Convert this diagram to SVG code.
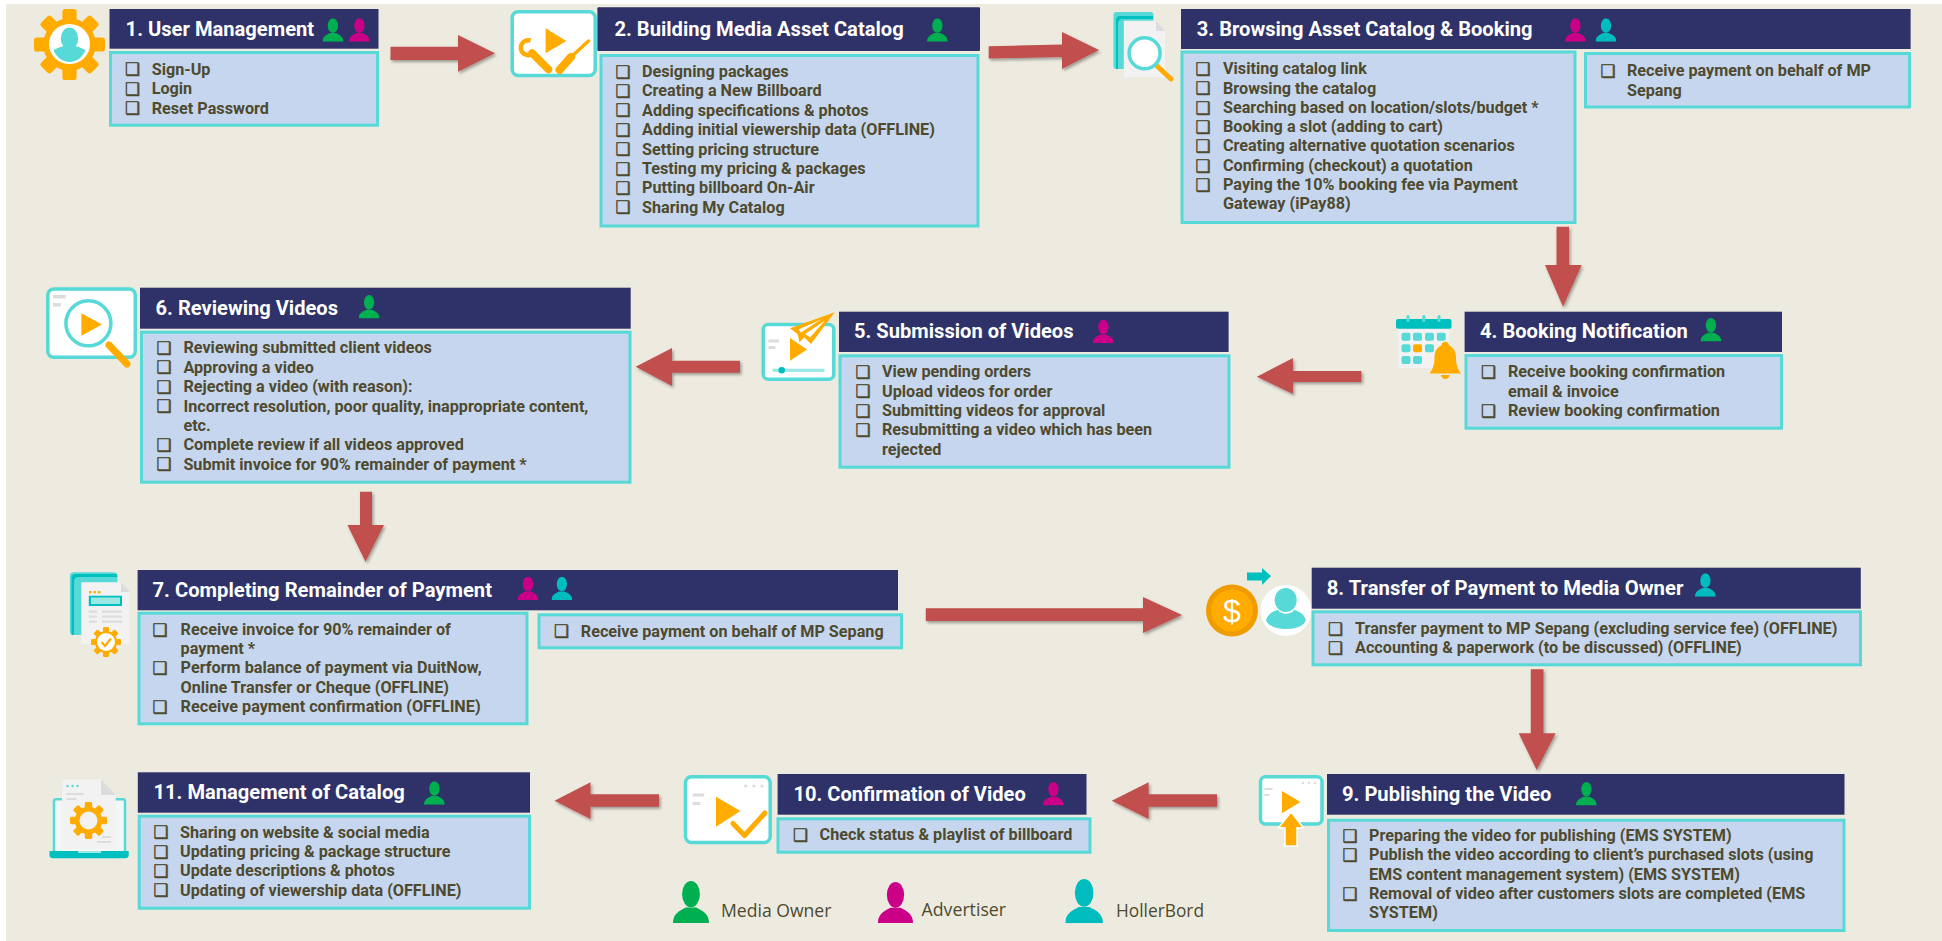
<svg xmlns="http://www.w3.org/2000/svg" xmlns:xlink="http://www.w3.org/1999/xlink" width="1942" height="941" viewBox="0 0 1942 941">
<style>
.h{fill:#2E3268}
.b{fill:#C5D6EE;stroke:#56D9D7;stroke-width:3}
.t{font:700 20px Roboto,"Liberation Sans",sans-serif;fill:#fff}
.l{font:700 16.2px Roboto,"Liberation Sans",sans-serif;fill:#4F4A2E}
.c{font:17px "DejaVu Sans",sans-serif;fill:#4F4A2E;stroke:#4F4A2E;stroke-width:.5}
.k{font:18px "Open Sans","Noto Sans",sans-serif;fill:#4F4A2E}
.a{fill:#C0504D;filter:url(#sh)}
.g{fill:#56D9D7}.d{fill:#00BFBF}.o{fill:#FFAB00}.p{fill:#F2F2F2}.y{fill:#DCDCDC}
.f{fill:#fff;stroke:#56D9D7;stroke-width:3.5}
.mg{fill:#00B050}.mm{fill:#CC0088}.mt{fill:#00BCBE}
</style>
<defs>
<filter id="sh" x="-20%" y="-20%" width="140%" height="140%"><feDropShadow dx="1.5" dy="2" stdDeviation="1.8" flood-color="#000" flood-opacity=".35"/></filter>
<symbol id="person" viewBox="0 0 21 23" preserveAspectRatio="none"><ellipse cx="10.5" cy="7.2" rx="5.2" ry="7.2"/><path d="M0 23C0 18 3.5 16.5 7.5 14.5L13.5 14.5C17.5 16.5 21 18 21 23Z"/></symbol>
<symbol id="gear" viewBox="-50 -50 100 100"><circle r="37"/><g id="tooth"><rect x="-10" y="-50" width="20" height="100" rx="4"/><rect x="-10" y="-50" width="20" height="100" rx="4" transform="rotate(45)"/><rect x="-10" y="-50" width="20" height="100" rx="4" transform="rotate(90)"/><rect x="-10" y="-50" width="20" height="100" rx="4" transform="rotate(135)"/></g></symbol>
</defs>
<rect width="1942" height="941" fill="#fff"/>
<rect x="6" y="4" width="1936" height="937" fill="#EDEBE0"/>

<g id="connectors">
<path class="a" d="M390.5 46.7H458V35L495 53.3 458 71.7V60H390.5Z"/>
<path class="a" d="M988.7 46.2L1062 44.5V32L1099 50 1062 69V57L988.7 58.5Z"/>
<path class="a" d="M1556.5 226.7H1569V265H1581.7L1563 306.7 1545 265H1556.5Z"/>
<path class="a" d="M1361.4 371H1293V358L1256.8 376.7 1293 394V382H1361.4Z"/>
<path class="a" d="M740 360.7H672V348L635.7 366.7 672 386V372.7H740Z"/>
<path class="a" d="M360 491.7H372V525H384L365.5 561.7 347.5 525H360Z"/>
<path class="a" d="M925.8 608.3H1143V597L1182 615 1143 633V621H925.8Z"/>
<path class="a" d="M1530.8 669.3H1543.5V733.3H1555.6L1536.7 770 1518.7 733.3H1530.8Z"/>
<path class="a" d="M1217 794.3H1148.6V782.3L1111.8 800.7 1148.6 819V806.7H1217Z"/>
<path class="a" d="M659 794.3H590.5V782.3L554.5 800.7 590.5 819V806.7H659Z"/>
</g>

<g id="node1">
<use href="#gear" x="34" y="9" width="71" height="71" class="o"/>
<ellipse cx="69.5" cy="44" rx="20.5" ry="20" fill="#fff"/>
<ellipse cx="69.5" cy="38.5" rx="8.7" ry="11" class="g"/>
<path class="g" d="M53.5 50C58 47.5 62 46.5 64 46H75C77 46.5 81 47.5 85.5 50 83 57 76.5 62 69.5 62S56 57 53.5 50Z"/>
<rect class="h" x="109.5" y="9" width="269" height="39.7"/>
<text class="t" x="125.6" y="35.5" textLength="188.6" lengthAdjust="spacingAndGlyphs">1. User Management</text>
<use href="#person" x="322.5" y="18.3" width="20.8" height="23.4" class="mg"/>
<use href="#person" x="349" y="18.3" width="20.8" height="23.4" class="mm"/>
<rect class="b" x="110.5" y="52.5" width="267" height="72.7"/>
<text class="c" x="125" y="75.3">❑</text><text class="l" x="151.7" y="74.5">Sign-Up</text>
<text class="c" x="125" y="95">❑</text><text class="l" x="151.7" y="94.2">Login</text>
<text class="c" x="125" y="114.3">❑</text><text class="l" x="151.7" y="113.5">Reset Password</text>
</g>

<g id="node2">
<rect class="f" x="512.2" y="11.8" width="83" height="63.7" rx="6"/>
<path class="o" d="M545.6 28.3L566.3 41 545.6 53.3Z"/>
<path d="M532 53L548.5 69.5" stroke="#FFAB00" stroke-width="7.5" stroke-linecap="round" fill="none"/>
<path d="M530.5 40.5A7.5 7.5 0 1 0 535 51" stroke="#FFAB00" stroke-width="4.5" fill="none"/>
<path d="M559.5 70L571 57" stroke="#FFAB00" stroke-width="8" stroke-linecap="round" fill="none"/>
<path d="M571 57L588.5 41" stroke="#FFAB00" stroke-width="3.5" stroke-linecap="round" fill="none"/>
<rect class="h" x="597.4" y="7.3" width="382.6" height="43.7" rx="1"/>
<text class="t" x="614.4" y="36" textLength="289.3" lengthAdjust="spacingAndGlyphs">2. Building Media Asset Catalog</text>
<use href="#person" x="927" y="18.3" width="20.8" height="23.4" class="mg"/>
<rect class="b" x="601" y="55.5" width="377" height="170.5"/>
<text class="c" x="615.5" y="77.5">❑</text><text class="l" x="642" y="76.9">Designing packages</text>
<text class="c" x="615.5" y="96.9">❑</text><text class="l" x="642" y="96.3">Creating a New Billboard</text>
<text class="c" x="615.5" y="116.3">❑</text><text class="l" x="642" y="115.7">Adding specifications &amp; photos</text>
<text class="c" x="615.5" y="135.7">❑</text><text class="l" x="642" y="135.1">Adding initial viewership data (OFFLINE)</text>
<text class="c" x="615.5" y="155.1">❑</text><text class="l" x="642" y="154.5">Setting pricing structure</text>
<text class="c" x="615.5" y="174.5">❑</text><text class="l" x="642" y="173.9">Testing my pricing &amp; packages</text>
<text class="c" x="615.5" y="193.9">❑</text><text class="l" x="642" y="193.3">Putting billboard On-Air</text>
<text class="c" x="615.5" y="213.3">❑</text><text class="l" x="642" y="212.7">Sharing My Catalog</text>
</g>

<g id="node3">
<rect class="g" x="1113.5" y="12" width="40" height="57" rx="3"/>
<path class="d" d="M1118 69V24Q1118 19 1123 19H1153V16H1120Q1116 16 1116 20V69Z"/>
<path class="p" d="M1123.8 20.7H1156L1165 31V77.3H1123.8Z"/>
<path class="y" d="M1156 20.7L1165 31H1156Z"/>
<path d="M1156 65L1171 79" stroke="#FFAB00" stroke-width="5" stroke-linecap="round"/>
<circle cx="1144.6" cy="53.3" r="15.5" fill="#fff" stroke="#56D9D7" stroke-width="3.5"/>
<rect class="h" x="1181" y="9" width="729.6" height="40"/>
<text class="t" x="1196.8" y="35.5" textLength="335.7" lengthAdjust="spacingAndGlyphs">3. Browsing Asset Catalog &amp; Booking</text>
<use href="#person" x="1565" y="18.3" width="20.8" height="23.4" class="mm"/>
<use href="#person" x="1595.6" y="18.3" width="20.8" height="23.4" class="mt"/>
<rect class="b" x="1182" y="52" width="393" height="170.5"/>
<text class="c" x="1195.5" y="75">❑</text><text class="l" x="1223" y="74.2">Visiting catalog link</text>
<text class="c" x="1195.5" y="94.3">❑</text><text class="l" x="1223" y="93.5">Browsing the catalog</text>
<text class="c" x="1195.5" y="113.6">❑</text><text class="l" x="1223" y="112.8">Searching based on location/slots/budget *</text>
<text class="c" x="1195.5" y="132.9">❑</text><text class="l" x="1223" y="132.1">Booking a slot (adding to cart)</text>
<text class="c" x="1195.5" y="152.2">❑</text><text class="l" x="1223" y="151.4">Creating alternative quotation scenarios</text>
<text class="c" x="1195.5" y="171.5">❑</text><text class="l" x="1223" y="170.7">Confirming (checkout) a quotation</text>
<text class="c" x="1195.5" y="190.8">❑</text><text class="l" x="1223" y="190">Paying the 10% booking fee via Payment</text>
<text class="l" x="1223" y="209.3">Gateway (iPay88)</text>
<rect class="b" x="1585.5" y="53.5" width="324" height="53.5"/>
<text class="c" x="1600.5" y="76.5">❑</text><text class="l" x="1627" y="75.9">Receive payment on behalf of MP</text>
<text class="l" x="1627" y="95.5">Sepang</text>
</g>

<g id="node4">
<rect class="p" x="1398" y="328" width="51.5" height="40"/>
<rect class="d" x="1396" y="319" width="55.5" height="9.7" rx="2"/>
<rect class="g" x="1406.5" y="315" width="3" height="7" rx="1.5"/><rect class="g" x="1422.3" y="315" width="3" height="7" rx="1.5"/><rect class="g" x="1437.5" y="315" width="3" height="7" rx="1.5"/>
<rect class="g" x="1401.5" y="332.7" width="9" height="8" rx="2"/><rect class="g" x="1413" y="332.7" width="9" height="8" rx="2"/><rect class="g" x="1425" y="332.7" width="9" height="8" rx="2"/><rect class="g" x="1436.8" y="332.7" width="9" height="8" rx="2"/>
<rect class="g" x="1401.5" y="344.3" width="9" height="8" rx="2"/><rect class="o" x="1413" y="344.3" width="9" height="8" rx="2"/><rect class="g" x="1425" y="344.3" width="9" height="8" rx="2"/>
<rect class="g" x="1401.5" y="356" width="9" height="8" rx="2"/><rect class="g" x="1413" y="356" width="9" height="8" rx="2"/>
<path class="o" d="M1445.2 341.7C1448 341.7 1449 344 1449 345.5 1454 347.5 1456 352 1456 358 1456 365 1458 370 1461 373.5H1429.5C1432.5 370 1434.5 365 1434.5 358 1434.5 352 1436.5 347.5 1441.5 345.5 1441.5 344 1442.5 341.7 1445.2 341.7ZM1441 375H1449.5C1449 377.5 1447.5 379 1445.2 379S1441.5 377.5 1441 375Z"/>
<rect class="h" x="1464.6" y="311.7" width="317.4" height="40.3"/>
<text class="t" x="1480" y="338" textLength="207.8" lengthAdjust="spacingAndGlyphs">4. Booking Notification</text>
<use href="#person" x="1700.5" y="318" width="20.8" height="23.4" class="mg"/>
<rect class="b" x="1466" y="355.5" width="315.5" height="72.7"/>
<text class="c" x="1481" y="377.8">❑</text><text class="l" x="1508" y="377.2">Receive booking confirmation</text>
<text class="l" x="1508" y="396.7">email &amp; invoice</text>
<text class="c" x="1481" y="416.8">❑</text><text class="l" x="1508" y="416.2">Review booking confirmation</text>
</g>

<g id="node5">
<rect class="f" x="763.2" y="324.5" width="70.6" height="54.7" rx="5"/>
<rect class="y" x="768.4" y="339.5" width="10.5" height="3"/><rect class="y" x="768.4" y="346" width="7" height="3"/>
<path class="o" d="M790 338L807 349.5 790 360.7Z"/>
<rect x="772.5" y="368.7" width="52" height="3.2" fill="#9BE8E4"/><circle cx="781.7" cy="370.3" r="3.3" class="d"/>
<path class="o" d="M834.7 312.3L790 328.3 797.5 334 799.5 342 804.5 337.5 811 344Z"/>
<path fill="#fff" d="M821 319.5L798.5 329.5 801 332.5ZM825 320.5L805 334 810 337.5Z"/>
<rect class="h" x="839" y="311.7" width="389.6" height="40.3"/>
<text class="t" x="854" y="338" textLength="219.5" lengthAdjust="spacingAndGlyphs">5. Submission of Videos</text>
<use href="#person" x="1093" y="319.7" width="20.8" height="23.4" class="mm"/>
<rect class="b" x="840" y="355.8" width="389" height="111.4"/>
<text class="c" x="855.5" y="377.8">❑</text><text class="l" x="882" y="377.2">View pending orders</text>
<text class="c" x="855.5" y="397.3">❑</text><text class="l" x="882" y="396.7">Upload videos for order</text>
<text class="c" x="855.5" y="416.6">❑</text><text class="l" x="882" y="416">Submitting videos for approval</text>
<text class="c" x="855.5" y="435.9">❑</text><text class="l" x="882" y="435.3">Resubmitting a video which has been</text>
<text class="l" x="882" y="454.5">rejected</text>
</g>

<g id="node6">
<rect class="f" x="47.8" y="289" width="87.5" height="68.3" rx="6"/>
<rect class="y" x="53" y="295" width="12.6" height="3.5"/><rect class="y" x="53" y="303" width="8" height="3.5"/>
<path d="M109 345L127 364" stroke="#FFAB00" stroke-width="7" stroke-linecap="round"/>
<circle cx="88.4" cy="323.3" r="22.5" fill="#fff" stroke="#56D9D7" stroke-width="3.5"/>
<path class="o" d="M81.4 313.3L102 324.5 81.4 335.7Z"/>
<rect class="h" x="140" y="287.7" width="490.7" height="41"/>
<text class="t" x="155.6" y="314.5" textLength="182.4" lengthAdjust="spacingAndGlyphs">6. Reviewing Videos</text>
<use href="#person" x="358.7" y="295" width="20.8" height="23.4" class="mg"/>
<rect class="b" x="141.5" y="332.2" width="488.5" height="150"/>
<text class="c" x="156.5" y="354">❑</text><text class="l" x="183.4" y="353.4">Reviewing submitted client videos</text>
<text class="c" x="156.5" y="373.4">❑</text><text class="l" x="183.4" y="372.8">Approving a video</text>
<text class="c" x="156.5" y="392.8">❑</text><text class="l" x="183.4" y="392.2">Rejecting a video (with reason):</text>
<text class="c" x="156.5" y="412.2">❑</text><text class="l" x="183.4" y="411.6">Incorrect resolution, poor quality, inappropriate content,</text>
<text class="l" x="183.4" y="431">etc.</text>
<text class="c" x="156.5" y="450.8">❑</text><text class="l" x="183.4" y="450.2">Complete review if all videos approved</text>
<text class="c" x="156.5" y="470.1">❑</text><text class="l" x="183.4" y="469.5">Submit invoice for 90% remainder of payment *</text>
</g>

<g id="node7">
<rect class="g" x="69.9" y="572.3" width="47.6" height="62.7" rx="4"/>
<path class="d" d="M74 635V582Q74 577 79 577H117V574H76Q71.5 574 71.5 578V635Z"/>
<path class="p" d="M81.3 582.3H121L130 592V644H81.3Z"/>
<path class="y" d="M121 582.3L130 592H121Z"/>
<rect class="o" x="89" y="591" width="2.4" height="2.4"/><rect class="o" x="93.5" y="591" width="2.4" height="2.4"/><rect class="o" x="98" y="591" width="2.4" height="2.4"/>
<rect class="d" x="88.8" y="595.7" width="33.2" height="10.3"/><rect x="91" y="597.5" width="29" height="6.5" fill="#9BE8E4"/>
<rect class="y" x="88.8" y="610.5" width="8" height="2.2"/><rect class="y" x="102" y="610.5" width="20" height="2.2"/>
<rect class="y" x="88.8" y="615.5" width="8" height="2.2"/><rect class="y" x="102" y="615.5" width="20" height="2.2"/>
<rect class="y" x="88.8" y="620.5" width="8" height="2.2"/><rect class="y" x="102" y="620.5" width="20" height="2.2"/>
<use href="#gear" x="91" y="627" width="30" height="30" class="o"/>
<circle cx="106" cy="642" r="9" fill="#fff"/>
<path d="M101.5 642L105 646 111 638.5" stroke="#FFAB00" stroke-width="2.2" fill="none"/>
<rect class="h" x="137.6" y="570" width="760.4" height="40.3"/>
<text class="t" x="152.5" y="597" textLength="339.5" lengthAdjust="spacingAndGlyphs">7. Completing Remainder of Payment</text>
<use href="#person" x="517.6" y="576.7" width="20.8" height="23.4" class="mm"/>
<use href="#person" x="551.5" y="576.7" width="20.8" height="23.4" class="mt"/>
<rect class="b" x="139" y="613.2" width="388" height="110.6"/>
<text class="c" x="152.5" y="635.6">❑</text><text class="l" x="180.6" y="635">Receive invoice for 90% remainder of</text>
<text class="l" x="180.6" y="654.3">payment *</text>
<text class="c" x="152.5" y="673.9">❑</text><text class="l" x="180.6" y="673.3">Perform balance of payment via DuitNow,</text>
<text class="l" x="180.6" y="692.7">Online Transfer or Cheque (OFFLINE)</text>
<text class="c" x="152.5" y="712.6">❑</text><text class="l" x="180.6" y="712">Receive payment confirmation (OFFLINE)</text>
<rect class="b" x="539" y="614.8" width="362.5" height="33"/>
<text class="c" x="554" y="637.3">❑</text><text class="l" x="580.8" y="636.7">Receive payment on behalf of MP Sepang</text>
</g>

<g id="node8">
<circle cx="1232" cy="610.5" r="26" fill="#F09C00"/><circle cx="1232" cy="610.5" r="21" class="o"/>
<text x="1232" y="622" text-anchor="middle" style="font:32px 'Liberation Sans',sans-serif;fill:#fff">$</text>
<circle cx="1286" cy="610.5" r="25.5" fill="#fff"/>
<ellipse cx="1285.7" cy="600" rx="11" ry="12" class="g"/>
<path class="g" d="M1266 620C1268 614 1273 611 1278 610 1281 615 1291 615 1294 610 1299 611 1304 614 1306 620 1304 626 1296 629 1286 629S1268 626 1266 620Z"/>
<path class="d" d="M1247 572.5H1262V568L1271 576 1262 585V580.5H1247Z"/>
<rect class="h" x="1311.7" y="567.7" width="549.1" height="41"/>
<text class="t" x="1326.7" y="595" textLength="356.7" lengthAdjust="spacingAndGlyphs">8. Transfer of Payment to Media Owner</text>
<use href="#person" x="1695" y="573.3" width="20.8" height="23.4" class="mt"/>
<rect class="b" x="1313" y="611.8" width="547.5" height="53"/>
<text class="c" x="1328" y="634.6">❑</text><text class="l" x="1355" y="634">Transfer payment to MP Sepang (excluding service fee) (OFFLINE)</text>
<text class="c" x="1328" y="653.9">❑</text><text class="l" x="1355" y="653.3">Accounting &amp; paperwork (to be discussed) (OFFLINE)</text>
</g>

<g id="node9">
<rect class="f" x="1260.5" y="776.7" width="61.5" height="47.3" rx="5"/>
<rect class="y" x="1264.5" y="788" width="8" height="2"/><rect class="y" x="1264.5" y="794" width="5" height="2"/>
<circle cx="1303" cy="783" r="1.2" class="y"/><circle cx="1309" cy="783" r="1.2" class="y"/><circle cx="1315" cy="783" r="1.2" class="y"/>
<path class="o" d="M1282 791L1300.4 802 1282 813.3Z"/>
<path class="o" stroke="#fff" stroke-width="1.5" d="M1291 812L1303.5 827.7H1297V846H1285V827.7H1278.5Z"/>
<rect class="h" x="1327" y="774" width="517.5" height="40.7"/>
<text class="t" x="1342" y="801" textLength="209.4" lengthAdjust="spacingAndGlyphs">9. Publishing the Video</text>
<use href="#person" x="1576" y="782" width="20.8" height="23.4" class="mg"/>
<rect class="b" x="1328.5" y="820.2" width="515.5" height="110.3"/>
<text class="c" x="1342.5" y="841.6">❑</text><text class="l" x="1369" y="841">Preparing the video for publishing (EMS SYSTEM)</text>
<text class="c" x="1342.5" y="860.9">❑</text><text class="l" x="1369" y="860.3">Publish the video according to client’s purchased slots (using</text>
<text class="l" x="1369" y="879.7">EMS content management system) (EMS SYSTEM)</text>
<text class="c" x="1342.5" y="899.6">❑</text><text class="l" x="1369" y="899">Removal of video after customers slots are completed (EMS</text>
<text class="l" x="1369" y="918.3">SYSTEM)</text>
</g>

<g id="node10">
<rect class="f" x="685.5" y="776.8" width="84.7" height="65.7" rx="6"/>
<rect class="y" x="692.7" y="793.5" width="11.5" height="3"/><rect class="y" x="692.7" y="802" width="7.5" height="3"/>
<circle cx="745.7" cy="786" r="1.6" class="y"/><circle cx="753.9" cy="786" r="1.6" class="y"/><circle cx="762" cy="786" r="1.6" class="y"/>
<path class="o" d="M716 796.7L740.4 811 716 826.7Z"/>
<path d="M733 823.5L744.5 835.5 765 813" stroke="#FFAB00" stroke-width="5" stroke-linecap="round" stroke-linejoin="round" fill="none"/>
<rect class="h" x="777.6" y="774" width="308.9" height="40.7"/>
<text class="t" x="793.5" y="801" textLength="232.2" lengthAdjust="spacingAndGlyphs">10. Confirmation of Video</text>
<use href="#person" x="1043" y="782" width="20.8" height="23.4" class="mm"/>
<rect class="b" x="778" y="818.8" width="312" height="33.4"/>
<text class="c" x="793" y="841">❑</text><text class="l" x="819.6" y="840.4">Check status &amp; playlist of billboard</text>
</g>

<g id="node11">
<rect x="54" y="799.3" width="71" height="53" fill="#F2F8F8" stroke="#56D9D7" stroke-width="2.5" rx="2"/>
<path class="d" d="M49.5 851H128.7V855Q128.7 858.3 125 858.3H53Q49.5 858.3 49.5 855Z"/>
<rect x="78" y="851" width="23" height="2" fill="#9BE8E4"/>
<path class="p" d="M62 779.3H101L115.8 795V849.3H62Z"/>
<path class="y" d="M101 779.3L115.8 795H101Z"/>
<circle cx="67.5" cy="786" r="1.2" class="g"/><circle cx="72.5" cy="786" r="1.2" class="g"/><circle cx="77.5" cy="786" r="1.2" class="g"/>
<rect class="y" x="66.5" y="793" width="17" height="2"/><rect class="y" x="66.5" y="798" width="10" height="2"/>
<rect class="y" x="102" y="836" width="9" height="2"/><rect class="y" x="97" y="841" width="14" height="2"/>
<use href="#gear" x="70" y="802" width="37" height="37" class="o"/>
<circle cx="88.5" cy="820.5" r="9" fill="#F2F2F2"/>
<rect class="h" x="137.8" y="772.3" width="392.2" height="40.4"/>
<text class="t" x="153.5" y="799" textLength="251.3" lengthAdjust="spacingAndGlyphs">11. Management of Catalog</text>
<use href="#person" x="424" y="781.3" width="20.8" height="23.4" class="mg"/>
<rect class="b" x="139.2" y="816.2" width="390.3" height="92"/>
<text class="c" x="153.5" y="838.3">❑</text><text class="l" x="180" y="837.7">Sharing on website &amp; social media</text>
<text class="c" x="153.5" y="857.6">❑</text><text class="l" x="180" y="857">Updating pricing &amp; package structure</text>
<text class="c" x="153.5" y="876.9">❑</text><text class="l" x="180" y="876.3">Update descriptions &amp; photos</text>
<text class="c" x="153.5" y="896.3">❑</text><text class="l" x="180" y="895.7">Updating of viewership data (OFFLINE)</text>
</g>

<g id="legend">
<use href="#person" x="673" y="881" width="36" height="42" class="mg"/>
<text class="k" x="721" y="917" textLength="110.4" lengthAdjust="spacingAndGlyphs">Media Owner</text>
<use href="#person" x="878" y="882" width="35" height="41" class="mm"/>
<text class="k" x="921.6" y="916" textLength="84.4" lengthAdjust="spacingAndGlyphs">Advertiser</text>
<use href="#person" x="1065.3" y="879" width="37.7" height="44.3" class="mt"/>
<text class="k" x="1116" y="917" textLength="88" lengthAdjust="spacingAndGlyphs">HollerBord</text>
</g>
</svg>
